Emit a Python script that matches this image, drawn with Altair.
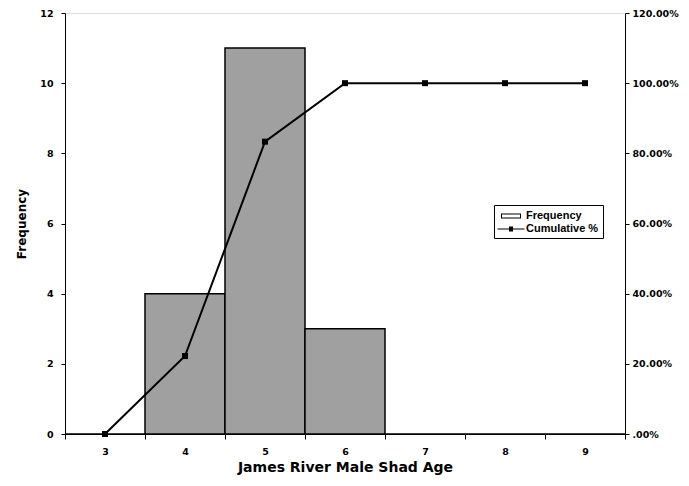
import altair as alt
import pandas as pd

ages = [3, 4, 5, 6, 7, 8, 9]
frequency = [0, 4, 11, 3, 0, 0, 0]
cumulative = [0.0, 0.2222, 0.8333, 1.0, 1.0, 1.0, 1.0]
series_names = ["Frequency", "Cumulative %"]

df = pd.DataFrame({"age": ages, "freq": frequency, "cum": cumulative})

FONT = "Liberation Sans"
TICK_FONT = "DejaVu Sans"
TITLE_FONT = "DejaVu Sans"

x_enc = alt.X(
    "age:O",
    scale=alt.Scale(domain=ages, paddingInner=0, paddingOuter=0),
    axis=alt.Axis(
        title="James River Male Shad Age",
        labelAngle=0,
        tickBand="extent",
        tickSize=5,
        labelPadding=7,
        titlePadding=5,
        domainColor="black",
        tickColor="black",
        labelFont=TICK_FONT,
        labelFontWeight="bold",
        labelFontSize=9.5,
        labelColor="black",
        titleFont=TITLE_FONT,
        titleFontWeight="bold",
        titleFontSize=14,
        titleColor="black",
    ),
)

bars = alt.Chart(df).mark_bar(
    fill="#a0a0a0", stroke="black", strokeWidth=1.5
).encode(
    x=x_enc,
    y=alt.Y(
        "freq:Q",
        scale=alt.Scale(domain=[0, 12], nice=False),
        axis=alt.Axis(
            title="Frequency",
            values=[0, 2, 4, 6, 8, 10, 12],
            grid=False,
            tickSize=4,
            domainColor="black",
            tickColor="black",
            labelFont=TICK_FONT,
            labelFontWeight="bold",
            labelFontSize=9.5,
            labelColor="black",
            labelPadding=8,
            titleFont=TITLE_FONT,
            titleFontWeight="bold",
            titleFontSize=12,
            titleColor="black",
            titlePadding=11,
        ),
    ),
)

line = alt.Chart(df).mark_line(
    color="black", strokeWidth=2,
    point=alt.OverlayMarkDef(shape="square", filled=True, size=36, color="black"),
).encode(
    x=alt.X("age:O"),
    y=alt.Y(
        "cum:Q",
        scale=alt.Scale(domain=[0, 1.2], nice=False),
        axis=alt.Axis(
            orient="right",
            title=None,
            values=[0, 0.2, 0.4, 0.6, 0.8, 1.0, 1.2],
            labelExpr="datum.value == 0 ? '.00%' : format(datum.value, '.2%')",
            grid=False,
            tickSize=4,
            domainColor="black",
            tickColor="black",
            labelFont=TICK_FONT,
            labelFontWeight="bold",
            labelFontSize=9.5,
            labelColor="black",
            labelPadding=3,
        ),
    ),
)

legend_df = pd.DataFrame({"series": series_names, "age": [3, 3]})
# legend swatches: hollow framed box for the bars, line with square for the line
rect_path = ("M-0.57,-0.36H2.29V0.36H-0.57Z"
             "M-0.43,-0.22V0.22H2.15V-0.22Z")
line_sq_path = ("M-1.07,-0.08H0.57V-0.36H1.15V-0.08H2.79V0.08"
                "H1.15V0.36H0.57V0.08H-1.07Z")

legend_layer = alt.Chart(legend_df).transform_filter(
    "datum.age < 0"
).mark_point(filled=True, color="black", strokeWidth=0, opacity=1).encode(
    x=alt.X("age:O"),
    shape=alt.Shape(
        "series:N",
        scale=alt.Scale(domain=series_names, range=[rect_path, line_sq_path]),
        legend=alt.Legend(
            title=None,
            orient="none",
            legendX=429,
            legendY=192,
            symbolSize=196,
            symbolOpacity=1,
            symbolFillColor="black",
            symbolStrokeWidth=0,
            labelFont=FONT,
            labelFontWeight="bold",
            labelFontSize=11,
            labelColor="black",
            labelOffset=14,
            strokeColor="black",
            fillColor="white",
            padding=4,
            rowPadding=1,
        ),
    ),
)

chart = alt.layer(bars, line, legend_layer).resolve_scale(
    y="independent"
).properties(
    width=560,
    height=421,
    padding={"left": 57, "top": 5, "right": 56, "bottom": 44},
    autosize=alt.AutoSizeParams(type="none"),
).configure_view(
    stroke="black", strokeWidth=1
).configure(background="white")

chart.save("out.html", embed_options={"renderer": "svg", "actions": False})
